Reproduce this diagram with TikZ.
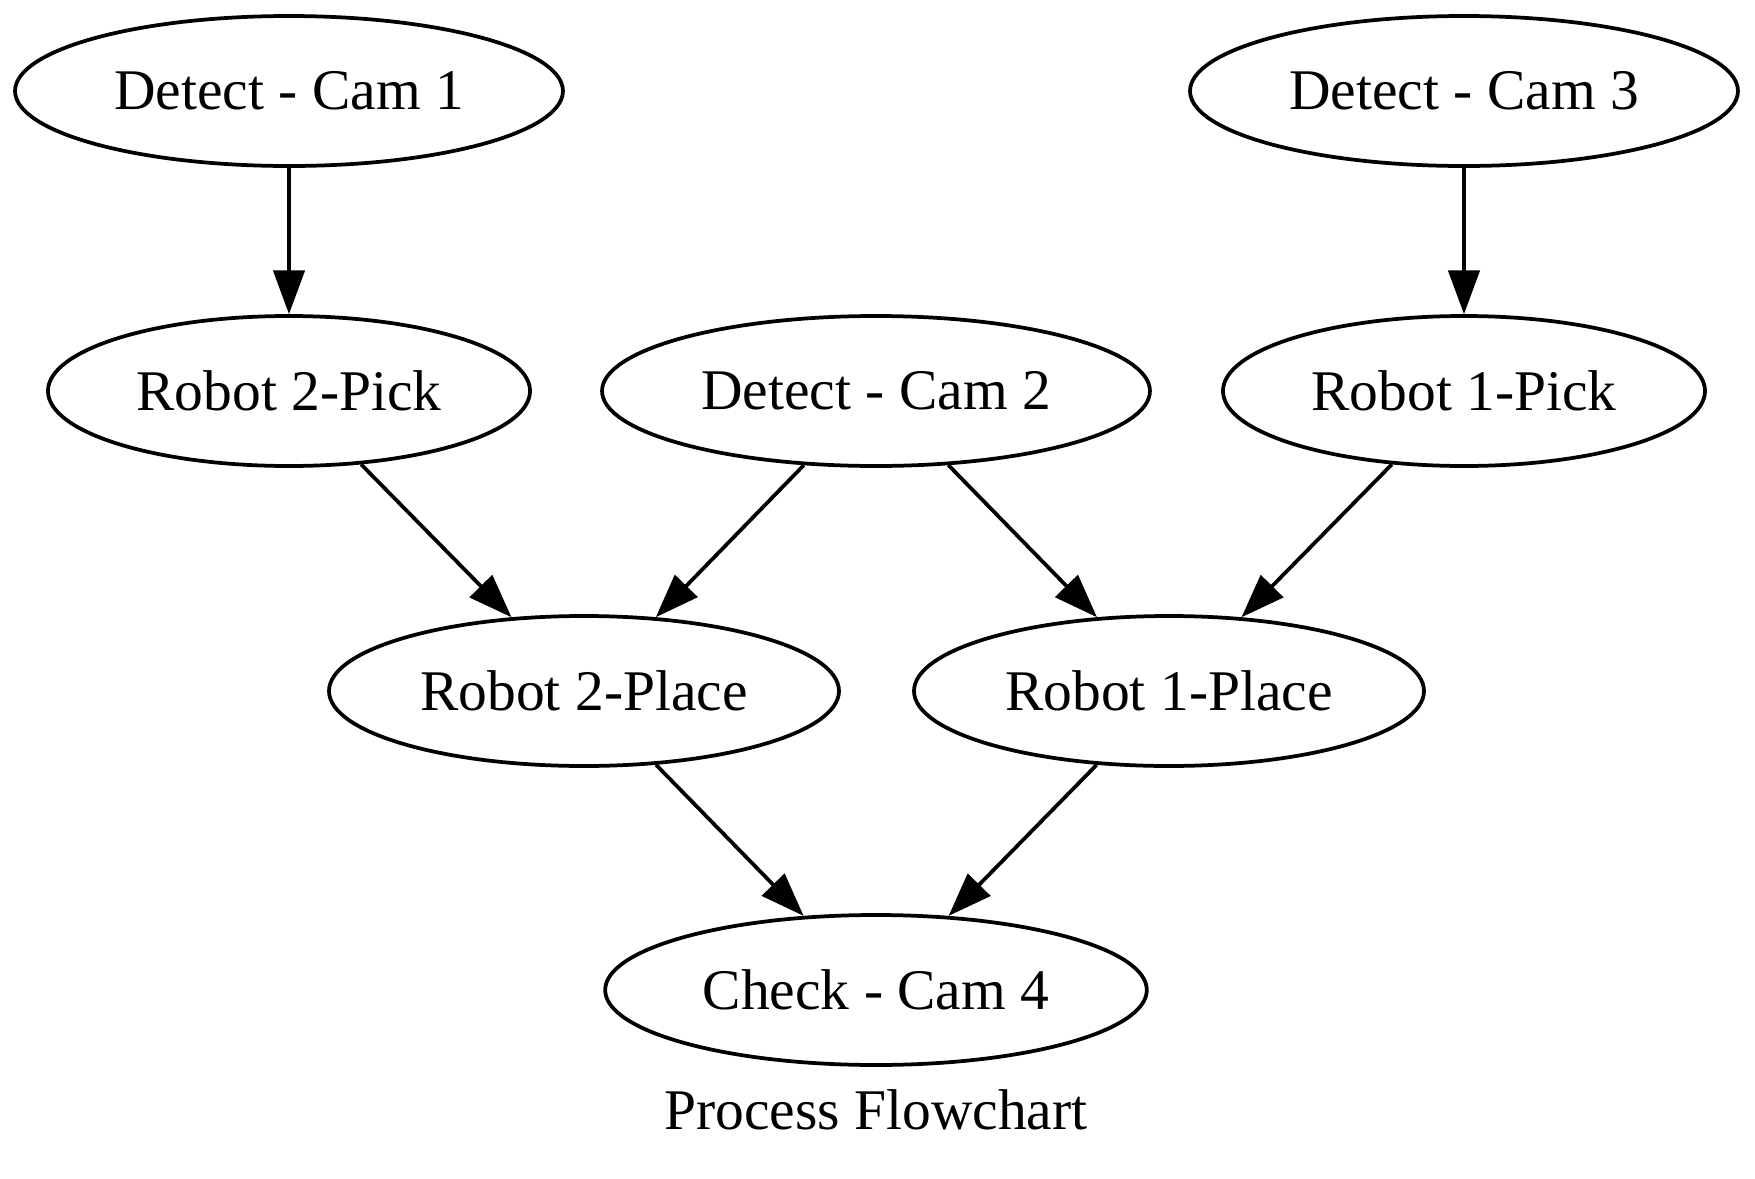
\documentclass[tikz,border=0pt]{standalone}
\usepackage{fontspec}
\setmainfont{Liberation Serif}
\usetikzlibrary{shapes.geometric,arrows.meta}
\begin{document}
\begin{tikzpicture}[x=0.24pt,y=-0.24pt,
  nd/.style={ellipse,draw,line width=0.9pt,minimum height=36pt,inner sep=0pt,font=\fontsize{13.8pt}{16pt}\selectfont},
  wA/.style={minimum width=131.5pt},
  wB/.style={minimum width=115.7pt},
  wC/.style={minimum width=122.4pt},
  wD/.style={minimum width=130pt},
  ar/.style={line width=0.9pt,-{Triangle[length=10.5pt,width=7.5pt]}}]
\useasboundingbox (0,0) rectangle (1755,1179);
\node[nd,wA] (c1) at (289,91) {Detect - Cam 1};
\node[nd,wA] (c3) at (1464,91) {Detect - Cam 3};
\node[nd,wB] (r2k) at (289,391) {Robot 2-Pick};
\node[nd,wA] (c2) at (876,391) {Detect - Cam 2};
\node[nd,wB] (r1k) at (1464,391) {Robot 1-Pick};
\node[nd,wC] (r2p) at (584,691) {Robot 2-Place};
\node[nd,wC] (r1p) at (1169,691) {Robot 1-Place};
\node[nd,wD] (c4) at (876,990) {Check - Cam 4};
\node[font=\fontsize{13.8pt}{16pt}\selectfont] (title) at (876,1110) {Process Flowchart};
\draw[ar] (c1) -- (r2k);
\draw[ar] (c3) -- (r1k);
\draw[ar] (r2k) -- (r2p);
\draw[ar] (c2) -- (r2p);
\draw[ar] (c2) -- (r1p);
\draw[ar] (r1k) -- (r1p);
\draw[ar] (r2p) -- (c4);
\draw[ar] (r1p) -- (c4);
\end{tikzpicture}
\end{document}
